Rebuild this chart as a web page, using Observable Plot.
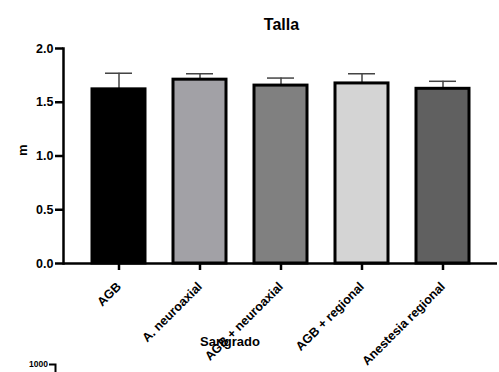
<!DOCTYPE html>
<html>
<head>
<meta charset="utf-8">
<script src="https://cdn.jsdelivr.net/npm/d3@7"></script>
<script src="https://cdn.jsdelivr.net/npm/@observablehq/plot@0.6"></script>
<style>
  html, body { margin: 0; padding: 0; background: #fff; }
  #chart { position: relative; width: 499px; height: 372px; overflow: hidden; }
  svg { font-family: "Liberation Sans", Arial, sans-serif; }
</style>
</head>
<body>
<div id="chart"></div>
<script>
const categories = ["AGB", "A. neuroaxial", "AGB + neuroaxial", "AGB + regional", "Anestesia regional"];
const means = [1.62, 1.71, 1.655, 1.675, 1.625];
const sds = [0.15, 0.055, 0.07, 0.09, 0.07];
const colors = ["#000000", "#a2a1a6", "#808080", "#d4d4d4", "#606060"];
const yTicks = [0, 0.5, 1.0, 1.5, 2.0];
const title = "Talla";
const yLabel = "m";
const nextTitle = "Sangrado";
const nextTick = "1000";

const data = categories.map((c, i) => ({cat: c, mean: means[i], upper: means[i] + sds[i]}));

const chart = Plot.plot({
  width: 499,
  height: 372,
  marginTop: 48,
  marginBottom: 109,
  marginLeft: 63,
  marginRight: 2,
  style: {fontFamily: "Liberation Sans, Arial, sans-serif", background: "#fff", overflow: "visible"},
  x: {domain: categories, paddingInner: 0.35, paddingOuter: 0.34},
  y: {domain: [0, 2]},
  color: {domain: categories, range: colors},
  marks: [
    Plot.ruleX(data, {x: "cat", y1: "mean", y2: "upper", stroke: "#444", strokeWidth: 1.5}),
    Plot.tickY(data, {x: "cat", y: "upper", stroke: "#444", strokeWidth: 1.5, insetLeft: 13, insetRight: 13}),
    Plot.barY(data, {x: "cat", y: "mean", fill: "cat", stroke: "#000", strokeWidth: 3}),
    Plot.axisY({ticks: yTicks, tickFormat: d3.format(".1f"), tickSize: 8, tickPadding: 2, strokeWidth: 2.5,
      fontSize: 12.5, fontWeight: "bold", label: null}),
    Plot.axisX({tickSize: 7, tickPadding: 14, tickRotate: -45, strokeWidth: 2.5, fontSize: 12.5, fontWeight: "bold", label: null}),
    Plot.ruleY([0], {strokeWidth: 2.5}),
    Plot.frame({anchor: "left", strokeWidth: 2.5}),
    Plot.text([title], {frameAnchor: "top", dx: 1, dy: -30, text: d => d, fontSize: 16, fontWeight: "bold"}),
    Plot.text([yLabel], {frameAnchor: "left", dx: -41, rotate: -90, text: d => d, fontSize: 13, fontWeight: "bold"})
  ]
});

document.getElementById("chart").appendChild(chart);

const svg = d3.select(chart);
svg.append("text").attr("x", 230).attr("y", 346).attr("text-anchor", "middle")
  .attr("font-size", 13).attr("font-weight", "bold").attr("fill", "#000").text(nextTitle);
svg.append("text").attr("x", 48).attr("y", 367).attr("text-anchor", "end")
  .attr("font-size", 8.5).attr("font-weight", "bold").attr("fill", "#000").text(nextTick);
svg.append("path").attr("d", "M49,364.5H55.5V372").attr("stroke", "#000").attr("stroke-width", 2).attr("fill", "none");
</script>
</body>
</html>
